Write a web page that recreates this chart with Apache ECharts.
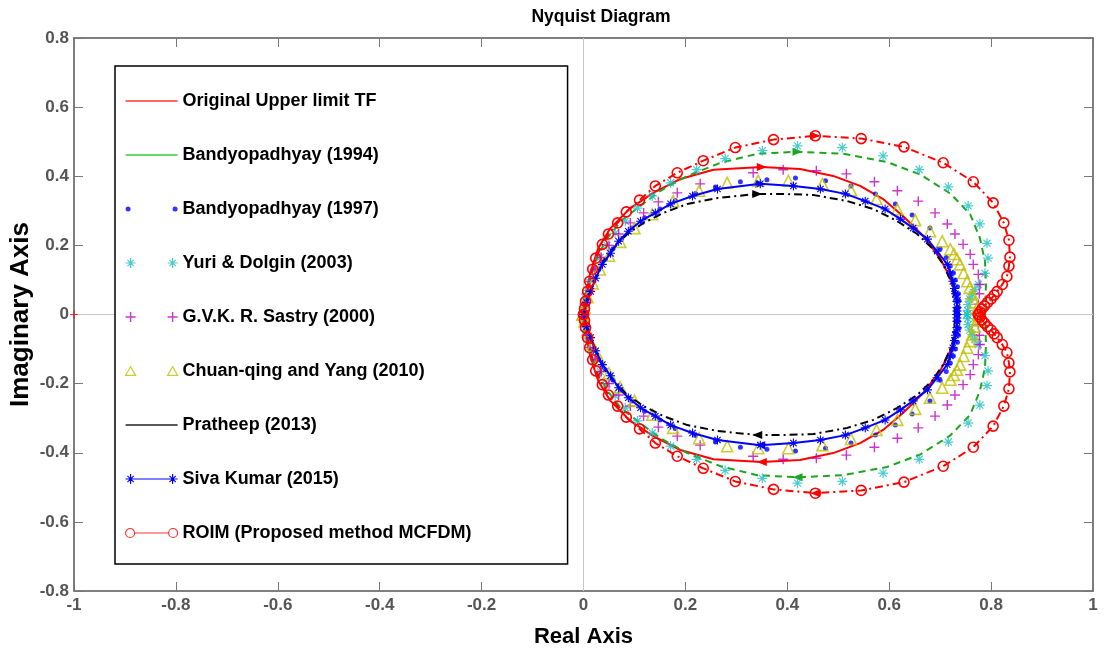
<!DOCTYPE html>
<html>
<head>
<meta charset="utf-8">
<script src="https://cdn.jsdelivr.net/npm/echarts@6/dist/echarts.min.js"></script>
<style>
html,body{margin:0;padding:0;background:#fff;}
#chart{width:1109px;height:657px;}
</style>
</head>
<body>
<div id="chart"></div>
<script>
// ---- tick labels / axis ranges ----
const xTicks = [-1, -0.8, -0.6, -0.4, -0.2, 0, 0.2, 0.4, 0.6, 0.8, 1];
const yTicks = [-0.8, -0.6, -0.4, -0.2, 0, 0.2, 0.4, 0.6, 0.8];

// ---- series names ----
const seriesNames = [
  'Original Upper limit TF',
  'Bandyopadhyay (1994)',
  'Bandyopadhyay (1997)',
  'Yuri & Dolgin (2003)',
  'G.V.K. R. Sastry (2000)',
  'Chuan-qing and Yang (2010)',
  'Pratheep (2013)',
  'Siva Kumar (2015)',
  'ROIM (Proposed method MCFDM)'
];

// ---- data: upper branch (from real-axis crossing to origin) and lower branch ----
const origUp = [[0.735,0],[0.733,0.04],[0.728,0.07],[0.72,0.105],[0.70,0.163],[0.667,0.227],[0.627,0.285],[0.588,0.334],[0.543,0.372],[0.49,0.401],[0.425,0.421],[0.35,0.427],[0.255,0.419],[0.19,0.392],[0.137,0.352],[0.092,0.308],[0.053,0.25],[0.029,0.192],[0.014,0.125],[0.004,0.058],[0,0.02],[-0.004,0]];
const origDown = [[0.735,0],[0.733,-0.04],[0.728,-0.07],[0.72,-0.105],[0.70,-0.163],[0.667,-0.227],[0.627,-0.285],[0.588,-0.334],[0.543,-0.372],[0.49,-0.401],[0.425,-0.421],[0.35,-0.427],[0.255,-0.419],[0.19,-0.392],[0.137,-0.352],[0.092,-0.308],[0.053,-0.25],[0.029,-0.192],[0.014,-0.125],[0.004,-0.058],[0,-0.02],[-0.004,0]];

const b94Up = [[0.788,0],[0.79,0.087],[0.788,0.154],[0.778,0.221],[0.759,0.29],[0.72,0.35],[0.661,0.405],[0.596,0.441],[0.51,0.465],[0.42,0.471],[0.341,0.465],[0.269,0.439],[0.204,0.401],[0.151,0.358],[0.106,0.308],[0.073,0.27],[0.047,0.221],[0.028,0.17],[0.014,0.11],[0.005,0.055],[0,0]];
const b94Down = [[0.788,0],[0.79,-0.087],[0.788,-0.154],[0.778,-0.221],[0.759,-0.29],[0.72,-0.35],[0.661,-0.405],[0.596,-0.441],[0.51,-0.465],[0.42,-0.471],[0.341,-0.465],[0.269,-0.439],[0.204,-0.401],[0.151,-0.358],[0.106,-0.308],[0.073,-0.27],[0.047,-0.221],[0.028,-0.17],[0.014,-0.11],[0.005,-0.055],[0,0]];

const b97Up = [[0.735,0],[0.736,0.02],[0.737,0.04],[0.736,0.06],[0.734,0.08],[0.73,0.1],[0.726,0.12],[0.72,0.14],[0.712,0.165],[0.70,0.19],[0.68,0.25],[0.645,0.288],[0.612,0.32],[0.573,0.349],[0.525,0.372],[0.475,0.387],[0.416,0.395],[0.36,0.39],[0.308,0.384],[0.259,0.369],[0.22,0.35],[0.18,0.33],[0.15,0.305],[0.12,0.28],[0.095,0.25],[0.075,0.22],[0.058,0.19],[0.043,0.16],[0.03,0.13],[0.02,0.1],[0.012,0.07],[0.006,0.045],[0.002,0.02],[0,0.005]];
const b97Down = [[0.735,0],[0.736,-0.02],[0.737,-0.04],[0.736,-0.06],[0.734,-0.08],[0.73,-0.1],[0.726,-0.12],[0.72,-0.14],[0.712,-0.165],[0.70,-0.19],[0.68,-0.25],[0.645,-0.288],[0.612,-0.32],[0.573,-0.349],[0.525,-0.372],[0.475,-0.387],[0.416,-0.395],[0.36,-0.39],[0.308,-0.384],[0.259,-0.369],[0.22,-0.35],[0.18,-0.33],[0.15,-0.305],[0.12,-0.28],[0.095,-0.25],[0.075,-0.22],[0.058,-0.19],[0.043,-0.16],[0.03,-0.13],[0.02,-0.1],[0.012,-0.07],[0.006,-0.045],[0.002,-0.02],[0,-0.005]];

const yuriUp = [[0.753,0],[0.754,0.012],[0.755,0.029],[0.758,0.045],[0.763,0.058],[0.768,0.072],[0.775,0.087],[0.788,0.119],[0.794,0.163],[0.792,0.206],[0.778,0.262],[0.755,0.314],[0.716,0.369],[0.659,0.419],[0.588,0.459],[0.508,0.483],[0.42,0.488],[0.351,0.474],[0.278,0.451],[0.222,0.419],[0.171,0.381],[0.135,0.343],[0.106,0.308],[0.082,0.27],[0.062,0.235],[0.046,0.2],[0.033,0.165],[0.022,0.13],[0.014,0.1],[0.008,0.07],[0.004,0.045],[0.001,0.02],[0,0]];
const yuriDown = [[0.753,0],[0.754,-0.012],[0.755,-0.029],[0.758,-0.045],[0.763,-0.058],[0.768,-0.072],[0.775,-0.087],[0.788,-0.119],[0.794,-0.163],[0.792,-0.206],[0.778,-0.262],[0.755,-0.314],[0.716,-0.369],[0.659,-0.419],[0.588,-0.459],[0.508,-0.483],[0.42,-0.488],[0.351,-0.474],[0.278,-0.451],[0.222,-0.419],[0.171,-0.381],[0.135,-0.343],[0.106,-0.308],[0.082,-0.27],[0.062,-0.235],[0.046,-0.2],[0.033,-0.165],[0.022,-0.13],[0.014,-0.1],[0.008,-0.07],[0.004,-0.045],[0.001,-0.02],[0,0]];

const sastryUp = [[0.773,0],[0.775,0.03],[0.777,0.06],[0.778,0.087],[0.775,0.116],[0.765,0.145],[0.759,0.174],[0.745,0.203],[0.729,0.233],[0.714,0.262],[0.69,0.294],[0.657,0.328],[0.616,0.358],[0.571,0.384],[0.516,0.407],[0.457,0.416],[0.392,0.419],[0.333,0.41],[0.229,0.378],[0.184,0.352],[0.147,0.326],[0.118,0.294],[0.092,0.265],[0.069,0.233],[0.05,0.2],[0.035,0.165],[0.023,0.13],[0.013,0.095],[0.006,0.06],[0.002,0.03],[0,0]];
const sastryDown = [[0.773,0],[0.775,-0.03],[0.777,-0.06],[0.778,-0.087],[0.775,-0.116],[0.765,-0.145],[0.759,-0.174],[0.745,-0.203],[0.729,-0.233],[0.714,-0.262],[0.69,-0.294],[0.657,-0.328],[0.616,-0.358],[0.571,-0.384],[0.516,-0.407],[0.457,-0.416],[0.392,-0.419],[0.333,-0.41],[0.229,-0.378],[0.184,-0.352],[0.147,-0.326],[0.118,-0.294],[0.092,-0.265],[0.069,-0.233],[0.05,-0.2],[0.035,-0.165],[0.023,-0.13],[0.013,-0.095],[0.006,-0.06],[0.002,-0.03],[0,0]];

const chuanUp = [[0.775,0],[0.772,0.017],[0.768,0.035],[0.763,0.058],[0.758,0.077],[0.753,0.096],[0.746,0.12],[0.739,0.145],[0.733,0.16],[0.727,0.175],[0.72,0.189],[0.704,0.212],[0.68,0.241],[0.651,0.273],[0.616,0.305],[0.575,0.334],[0.525,0.36],[0.469,0.378],[0.402,0.387],[0.343,0.387],[0.282,0.381],[0.227,0.358],[0.176,0.328],[0.135,0.29],[0.1,0.25],[0.072,0.21],[0.05,0.17],[0.032,0.13],[0.018,0.09],[0.008,0.05],[0.002,0.02],[-0.002,0]];
const chuanDown = [[0.775,0],[0.772,-0.017],[0.768,-0.035],[0.763,-0.058],[0.758,-0.077],[0.753,-0.096],[0.746,-0.12],[0.739,-0.145],[0.733,-0.16],[0.727,-0.175],[0.72,-0.189],[0.704,-0.212],[0.68,-0.241],[0.651,-0.273],[0.616,-0.305],[0.575,-0.334],[0.525,-0.36],[0.469,-0.378],[0.402,-0.387],[0.343,-0.387],[0.282,-0.381],[0.227,-0.358],[0.176,-0.328],[0.135,-0.29],[0.1,-0.25],[0.072,-0.21],[0.05,-0.17],[0.032,-0.13],[0.018,-0.09],[0.008,-0.05],[0.002,-0.02],[-0.002,0]];

const pratheepUp = [[0.729,0],[0.728,0.04],[0.724,0.087],[0.706,0.145],[0.684,0.192],[0.655,0.233],[0.616,0.27],[0.569,0.305],[0.518,0.328],[0.451,0.346],[0.386,0.349],[0.341,0.349],[0.263,0.337],[0.204,0.32],[0.157,0.294],[0.118,0.265],[0.086,0.233],[0.059,0.192],[0.039,0.154],[0.024,0.105],[0.01,0.052],[0,0]];
const pratheepDown = [[0.729,0],[0.728,-0.04],[0.724,-0.087],[0.706,-0.145],[0.684,-0.192],[0.655,-0.233],[0.616,-0.27],[0.569,-0.305],[0.518,-0.328],[0.451,-0.346],[0.386,-0.349],[0.341,-0.349],[0.263,-0.337],[0.204,-0.32],[0.157,-0.294],[0.118,-0.265],[0.086,-0.233],[0.059,-0.192],[0.039,-0.154],[0.024,-0.105],[0.01,-0.052],[0,0]];

const sivaUp = [[0.733,0],[0.733,0.01],[0.733,0.02],[0.733,0.038],[0.732,0.05],[0.73,0.06],[0.728,0.075],[0.725,0.096],[0.72,0.12],[0.714,0.145],[0.694,0.183],[0.675,0.218],[0.647,0.25],[0.622,0.276],[0.592,0.305],[0.553,0.328],[0.514,0.349],[0.465,0.363],[0.412,0.372],[0.347,0.378],[0.263,0.363],[0.214,0.343],[0.171,0.32],[0.141,0.294],[0.112,0.27],[0.088,0.241],[0.069,0.212],[0.053,0.177],[0.037,0.145],[0.024,0.105],[0.014,0.067],[0.006,0.035],[0,0]];
const sivaDown = [[0.733,0],[0.733,-0.01],[0.733,-0.02],[0.733,-0.038],[0.732,-0.05],[0.73,-0.06],[0.728,-0.075],[0.725,-0.096],[0.72,-0.12],[0.714,-0.145],[0.694,-0.183],[0.675,-0.218],[0.647,-0.25],[0.622,-0.276],[0.592,-0.305],[0.553,-0.328],[0.514,-0.349],[0.465,-0.363],[0.412,-0.372],[0.347,-0.378],[0.263,-0.363],[0.214,-0.343],[0.171,-0.32],[0.141,-0.294],[0.112,-0.27],[0.088,-0.241],[0.069,-0.212],[0.053,-0.177],[0.037,-0.145],[0.024,-0.105],[0.014,-0.067],[0.006,-0.035],[0,0]];

const roimUp = [[0.775,0],[0.778,0.008],[0.782,0.016],[0.787,0.025],[0.793,0.035],[0.8,0.045],[0.806,0.056],[0.812,0.067],[0.822,0.087],[0.831,0.11],[0.835,0.14],[0.837,0.166],[0.835,0.215],[0.825,0.265],[0.804,0.323],[0.765,0.384],[0.706,0.439],[0.629,0.485],[0.545,0.509],[0.455,0.517],[0.373,0.506],[0.298,0.483],[0.235,0.445],[0.184,0.41],[0.141,0.372],[0.11,0.331],[0.084,0.297],[0.067,0.265],[0.049,0.233],[0.037,0.203],[0.024,0.163],[0.018,0.131],[0.012,0.096],[0.008,0.067],[0.004,0.038],[0.002,0.017],[0,0]];
const roimDown = [[0.775,0],[0.778,-0.008],[0.782,-0.016],[0.787,-0.025],[0.793,-0.035],[0.8,-0.045],[0.806,-0.056],[0.812,-0.067],[0.822,-0.087],[0.831,-0.11],[0.835,-0.14],[0.837,-0.166],[0.835,-0.215],[0.825,-0.265],[0.804,-0.323],[0.765,-0.384],[0.706,-0.439],[0.629,-0.485],[0.545,-0.509],[0.455,-0.517],[0.373,-0.506],[0.298,-0.483],[0.235,-0.445],[0.184,-0.41],[0.141,-0.372],[0.11,-0.331],[0.084,-0.297],[0.067,-0.265],[0.049,-0.233],[0.037,-0.203],[0.024,-0.163],[0.018,-0.131],[0.012,-0.096],[0.008,-0.067],[0.004,-0.038],[0.002,-0.017],[0,0]];

const criticalPoint = [[-1, 0]];

// index of the point in each branch where the direction arrow sits
const arrowIndex = {orig: 11, b94: 9, pratheep: 11, siva: 19, roim: 19};

function loop(up, down) { return up.concat(down.slice().reverse()); }

// ---- marker shapes ----
const PLUS = 'path://M-1,-0.14L1,-0.14L1,0.14L-1,0.14Z M0.14,-1L0.14,1L-0.14,1L-0.14,-1Z';
const STAR = 'path://M-1,-0.12L1,-0.12L1,0.12L-1,0.12Z M0.12,-1L0.12,1L-0.12,1L-0.12,-1Z M0.62,0.79L-0.79,-0.62L-0.62,-0.79L0.79,0.62Z M-0.62,0.79L-0.79,0.62L0.62,-0.79L0.79,-0.62Z';

// legend icon builders (52 x 10 box, MATLAB-like: marker at both ends of sample)
function plusAt(c) { return `M${c-5},4.3L${c+5},4.3L${c+5},5.7L${c-5},5.7Z M${c+0.7},0L${c+0.7},10L${c-0.7},10L${c-0.7},0Z `; }
function starAt(c) {
  const s = 4.5, f = v => (v * s);
  return `M${c-5},${5-0.6}L${c+5},${5-0.6}L${c+5},${5+0.6}L${c-5},${5+0.6}Z ` +
         `M${c+0.6},0L${c+0.6},10L${c-0.6},10L${c-0.6},0Z ` +
         `M${c+f(0.62)},${5+f(0.79)}L${c-f(0.79)},${5-f(0.62)}L${c-f(0.62)},${5-f(0.79)}L${c+f(0.79)},${5+f(0.62)}Z ` +
         `M${c-f(0.62)},${5+f(0.79)}L${c-f(0.79)},${5+f(0.62)}L${c+f(0.62)},${5-f(0.79)}L${c+f(0.79)},${5-f(0.62)}Z `;
}
function dotAt(c) { return `M${c-2.5},5a2.5,2.5 0 1,0 5,0a2.5,2.5 0 1,0 -5,0Z `; }
function triAt(c) { return `M${c},0.8L${c+5},9.5L${c-5},9.5Z `; }
const ICON_LINE = 'path://M0,4.3L52,4.3L52,5.7L0,5.7Z';
const ICON_DOTS = 'path://' + dotAt(2.5) + dotAt(49.5);
const ICON_STARS = 'path://' + starAt(5) + starAt(47);
const ICON_PLUS = 'path://' + plusAt(5) + plusAt(47);
const ICON_TRI = 'path://' + triAt(5) + triAt(47);
const ICON_SIVA = 'path://' + starAt(5) + starAt(47) + 'M5,4.4L47,4.4L47,5.6L5,5.6Z';
const ICON_ROIM = 'path://M0,5a4.5,4.5 0 1,0 9,0a4.5,4.5 0 1,0 -9,0Z M43,5a4.5,4.5 0 1,0 9,0a4.5,4.5 0 1,0 -9,0Z M9,5L43,5';

function arrows(up, down, idx, color) {
  return {
    silent: true,
    symbol: 'triangle',
    symbolSize: [8, 10],
    label: {show: false},
    itemStyle: {color: color, borderWidth: 0},
    data: [
      {coord: up[idx], symbolRotate: -90},
      {coord: down[idx], symbolRotate: 90}
    ]
  };
}

const chart = echarts.init(document.getElementById('chart'), null, {renderer: 'canvas'});

const FONT = '"Liberation Sans", Arial, Helvetica, sans-serif';
const axisCommon = {
  type: 'value',
  axisLine: {show: true, onZero: false, lineStyle: {color: '#555', width: 1.5}},
  axisTick: {show: true, inside: true, length: 9, lineStyle: {color: '#777', width: 1}},
  splitLine: {show: false}
};

const option = {
  animation: false,
  backgroundColor: '#fff',
  title: {
    text: 'Nyquist Diagram',
    left: 596, top: 3, textAlign: 'center',
    textStyle: {fontFamily: FONT, fontWeight: 'bold', fontSize: 17.5, color: '#000'}
  },
  grid: {left: 74, right: 16, top: 38, bottom: 66, containLabel: false, outerBoundsMode: 'none'},
  legend: {
    orient: 'vertical',
    left: 115, top: 66,
    z: 20,
    padding: [26, 96, 22, 10],
    itemGap: 36,
    itemWidth: 52,
    itemHeight: 10,
    symbolKeepAspect: true,
    backgroundColor: '#fff',
    borderColor: '#000',
    borderWidth: 1.5,
    borderRadius: 0,
    selectedMode: false,
    textStyle: {fontFamily: FONT, fontWeight: 'bold', fontSize: 18, lineHeight: 18, color: '#000'},
    data: [
      {name: seriesNames[0], icon: ICON_LINE, itemStyle: {color: '#ff3333', borderWidth: 0}},
      {name: seriesNames[1], icon: ICON_LINE, itemStyle: {color: '#33cc33', borderWidth: 0}},
      {name: seriesNames[2], icon: ICON_DOTS, itemStyle: {color: '#0000ff', borderWidth: 0}},
      {name: seriesNames[3], icon: ICON_STARS, itemStyle: {color: '#1fbfbf', borderWidth: 0}},
      {name: seriesNames[4], icon: ICON_PLUS, itemStyle: {color: '#c000c0', borderWidth: 0}},
      {name: seriesNames[5], icon: ICON_TRI, itemStyle: {color: 'rgba(0,0,0,0)', borderColor: '#bfbf00', borderWidth: 1.2}},
      {name: seriesNames[6], icon: ICON_LINE, itemStyle: {color: '#222', borderWidth: 0}},
      {name: seriesNames[7], icon: ICON_SIVA, itemStyle: {color: '#0000ff', borderWidth: 0}},
      {name: seriesNames[8], icon: ICON_ROIM, itemStyle: {color: 'rgba(0,0,0,0)', borderColor: '#ff3333', borderWidth: 1.2}}
    ]
  },
  xAxis: [
    Object.assign({}, axisCommon, {
      position: 'bottom', min: xTicks[0], max: xTicks[xTicks.length - 1], interval: 0.2,
      name: 'Real Axis', nameLocation: 'middle', nameGap: 35, nameMoveOverlap: false,
      nameTextStyle: {fontFamily: FONT, fontWeight: 'bold', fontSize: 22, color: '#000'},
      axisLabel: {show: true, margin: 6, fontFamily: FONT, fontWeight: 'bold', fontSize: 17, color: '#555'}
    }),
    Object.assign({}, axisCommon, {
      position: 'top', min: xTicks[0], max: xTicks[xTicks.length - 1], interval: 0.2,
      axisLabel: {show: false}
    })
  ],
  yAxis: [
    Object.assign({}, axisCommon, {
      position: 'left', min: yTicks[0], max: yTicks[yTicks.length - 1], interval: 0.2,
      name: 'Imaginary Axis', nameLocation: 'middle', nameGap: 40, nameMoveOverlap: false,
      nameTextStyle: {fontFamily: FONT, fontWeight: 'bold', fontSize: 26, color: '#000'},
      axisLabel: {show: true, margin: 5, fontFamily: FONT, fontWeight: 'bold', fontSize: 17, color: '#555'}
    }),
    Object.assign({}, axisCommon, {
      position: 'right', min: yTicks[0], max: yTicks[yTicks.length - 1], interval: 0.2,
      axisLabel: {show: false}
    })
  ],
  series: [
    {
      name: seriesNames[0], type: 'line', data: loop(origUp, origDown),
      showSymbol: false, symbol: 'none',
      lineStyle: {color: '#ff0000', width: 2, type: 'solid'},
      itemStyle: {color: '#ff0000'},
      z: 2,
      markLine: {
        silent: true, symbol: 'none', label: {show: false}, z: 1,
        lineStyle: {color: '#c8c8c8', width: 1, type: 'solid'},
        data: [{xAxis: 0}, {yAxis: 0}]
      },
      markPoint: arrows(origUp, origDown, arrowIndex.orig, '#ff0000')
    },
    {
      name: seriesNames[1], type: 'line', data: loop(b94Up, b94Down),
      symbol: 'none', lineStyle: {color: '#1ea51e', width: 2, type: [7, 5]},
      itemStyle: {color: '#1ea51e'}, z: 3,
      markPoint: arrows(b94Up, b94Down, arrowIndex.b94, '#1ea51e')
    },
    {
      name: seriesNames[2], type: 'scatter', data: loop(b97Up, b97Down),
      symbol: 'circle', symbolSize: 5, itemStyle: {color: '#0000ff'}, z: 4
    },
    {
      name: seriesNames[3], type: 'scatter', data: loop(yuriUp, yuriDown),
      symbol: STAR, symbolSize: 10, itemStyle: {color: '#1fbfbf'}, z: 5
    },
    {
      name: seriesNames[4], type: 'scatter', data: loop(sastryUp, sastryDown),
      symbol: PLUS, symbolSize: 10, itemStyle: {color: '#c000c0'}, z: 6
    },
    {
      name: seriesNames[5], type: 'scatter', data: loop(chuanUp, chuanDown),
      symbol: 'triangle', symbolSize: 11,
      itemStyle: {color: 'rgba(0,0,0,0)', borderColor: '#bfbf00', borderWidth: 1.6}, z: 7
    },
    {
      name: seriesNames[6], type: 'line', data: loop(pratheepUp, pratheepDown),
      symbol: 'none', lineStyle: {color: '#000', width: 2, type: [8, 4, 2, 4]},
      itemStyle: {color: '#000'}, z: 8,
      markPoint: arrows(pratheepUp, pratheepDown, arrowIndex.pratheep, '#000')
    },
    {
      name: seriesNames[7], type: 'line', data: loop(sivaUp, sivaDown),
      symbol: STAR, symbolSize: 9, showSymbol: true,
      lineStyle: {color: '#0000ff', width: 2},
      itemStyle: {color: '#0000ff'}, z: 9,
      markPoint: arrows(sivaUp, sivaDown, arrowIndex.siva, '#0000ff')
    },
    {
      name: seriesNames[8], type: 'line', data: loop(roimUp, roimDown),
      symbol: 'circle', symbolSize: 10, showSymbol: true,
      lineStyle: {color: '#ff0000', width: 2, type: [8, 4, 2, 4]},
      itemStyle: {color: 'rgba(0,0,0,0)', borderColor: '#ff0000', borderWidth: 1.6}, z: 10,
      markPoint: arrows(roimUp, roimDown, arrowIndex.roim, '#ff0000')
    },
    {
      name: 'critical', type: 'scatter', data: criticalPoint,
      symbol: PLUS, symbolSize: 8, itemStyle: {color: '#ff0000'}, z: 11, silent: true
    }
  ]
};
chart.setOption(option);
</script>
</body>
</html>
